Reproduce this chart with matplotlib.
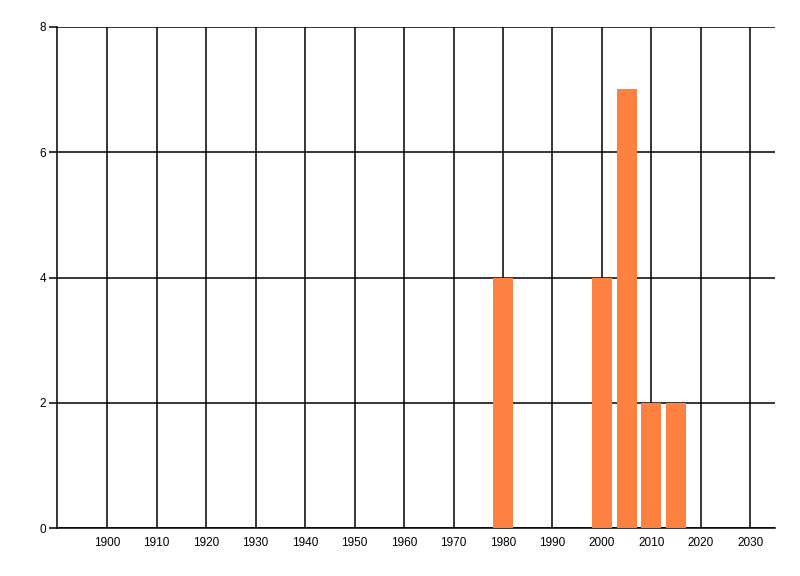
import matplotlib.pyplot as plt

# data
years = [1980, 2000, 2005, 2010, 2015]
counts = [4, 4, 7, 2, 2]
x_ticks = list(range(1900, 2031, 10))
y_ticks = [0, 2, 4, 6, 8]

plt.rcParams['font.family'] = ['Liberation Sans', 'DejaVu Sans']

fig = plt.figure(figsize=(8, 5.76), dpi=100)
ax = fig.add_axes([0.0716, 0.0828, 0.8972, 0.8708])

ax.bar(years, counts, width=4, color='#FF8142', zorder=3)

ax.set_xlim(1889.9, 2035)
ax.set_ylim(0, 8)
ax.set_xticks(x_ticks)
ax.set_yticks(y_ticks)
ax.grid(True, color='black', linewidth=1.1, zorder=1)

ax.tick_params(axis='x', length=0, pad=6, labelsize=8.5)
ax.tick_params(axis='y', length=6, width=1.1, pad=2, labelsize=8.5)

for side in ['top', 'right']:
    ax.spines[side].set_visible(False)
for side in ['left', 'bottom']:
    ax.spines[side].set_linewidth(1.1)

plt.savefig('out.png', dpi=100)
